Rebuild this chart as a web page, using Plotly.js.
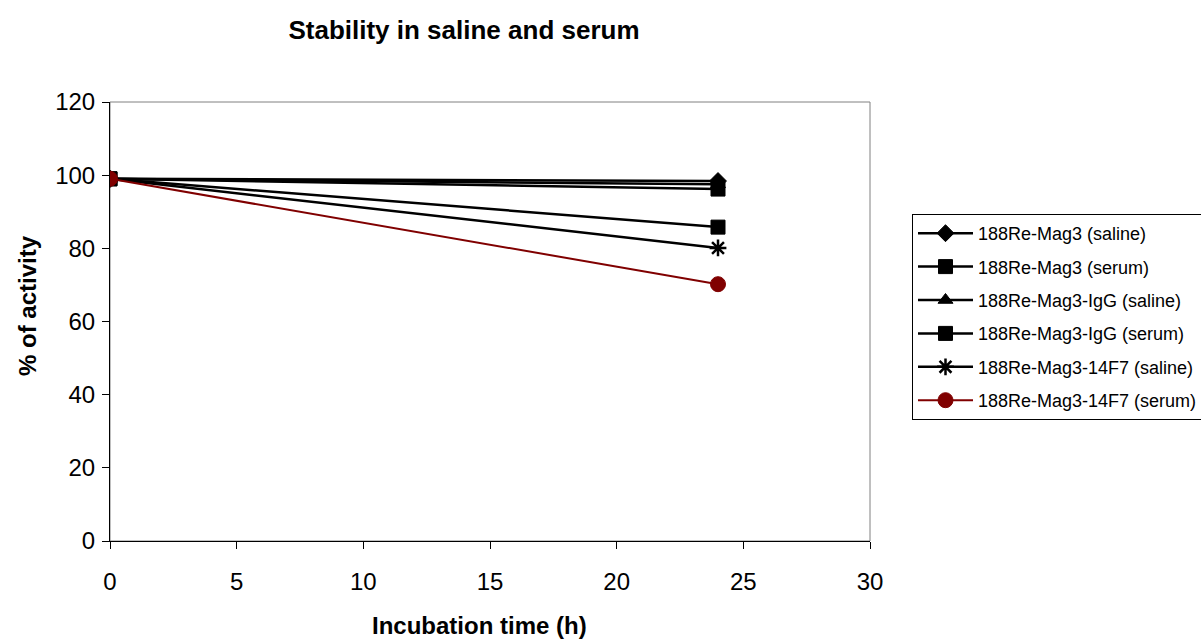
<!DOCTYPE html>
<html><head><meta charset="utf-8">
<script src="https://cdn.plot.ly/plotly-3.0.1.min.js"></script>
<style>body{margin:0;background:#fff}#c{width:1201px;height:640px}</style>
</head><body><div id="c"></div>
<script>
const times = [0, 24];
const seriesNames = ["188Re-Mag3 (saline)","188Re-Mag3 (serum)","188Re-Mag3-IgG (saline)","188Re-Mag3-IgG (serum)","188Re-Mag3-14F7 (saline)","188Re-Mag3-14F7 (serum)"];
const magSaline = [99, 98.4];
const magSerum = [99, 96.2];
const iggSaline = [99, 97.5];
const iggSerum = [99, 85.8];
const f7Saline = [99, 80.1];
const f7Serum = [99, 70.2];
const xTicks = [0, 5, 10, 15, 20, 25, 30];
const yTicks = [0, 20, 40, 60, 80, 100, 120];
const seriesValues = [magSaline, magSerum, iggSaline, iggSerum, f7Saline, f7Serum];
const symbols = ["diamond","square","triangle-up","square","asterisk","circle"];
const colors = ["#000","#000","#000","#000","#000","#800000"];
const sizes = [13,14,13,14,14,15];

const traces = seriesValues.map((v,i)=>({
  x: times, y: v, name: seriesNames[i], legendgroup: 'g'+i, type:'scatter', mode:'lines+markers',
  line:{color:colors[i], width: i===5?2:2.5},
  marker:{symbol:symbols[i], size:sizes[i], color:colors[i], line:{color:colors[i], width: symbols[i]==='asterisk'?2.5:1}}
}));

const layout = {
  width:1201, height:640, paper_bgcolor:'#fff', plot_bgcolor:'#fff',
  margin:{l:110, r:331, t:102, b:99, autoexpand:false},
  font:{family:'Arial, Liberation Sans, sans-serif', size:18, color:'#000'},
  showlegend:true,
  title:{text:'<b>Stability in saline and serum</b>', font:{size:26}, x:464/1201, xanchor:'center', y:1-30/640, yanchor:'middle'},
  xaxis:{range:[0,30], tickvals:xTicks, showgrid:false, zeroline:false, showline:true, linecolor:'#000', linewidth:1, ticks:'outside', ticklen:7, tickcolor:'#000', tickfont:{size:24}, ticklabelstandoff:12},
  yaxis:{range:[0,120], tickvals:yTicks, showgrid:false, zeroline:false, showline:true, linecolor:'#000', linewidth:1, ticks:'outside', ticklen:7, tickcolor:'#000', tickfont:{size:24}, ticklabelstandoff:2},
  legend:{x:(912-110)/760, xanchor:'left', y:(541-214)/439, yanchor:'top', bordercolor:'#000', borderwidth:1, font:{size:18}, tracegroupgap:7, itemwidth:55, bgcolor:'#fff', traceorder:'grouped'},
  shapes:[{type:'rect', xref:'paper', yref:'paper', x0:0, x1:1, y0:0, y1:1, line:{color:'#808080', width:1}, layer:'below'}],
  annotations:[
    {text:'<b>Incubation time (h)</b>', xref:'paper', yref:'paper', x:(479-110)/760, y:-(625-541)/439, xanchor:'center', yanchor:'middle', showarrow:false, font:{size:24}},
    {text:'<b>% of activity</b>', xref:'paper', yref:'paper', x:-(110-27)/760, y:(541-306)/439, xanchor:'center', yanchor:'middle', textangle:-90, showarrow:false, font:{size:24}}
  ]
};
Plotly.newPlot('c', traces, layout, {displayModeBar:false});
</script></body></html>
